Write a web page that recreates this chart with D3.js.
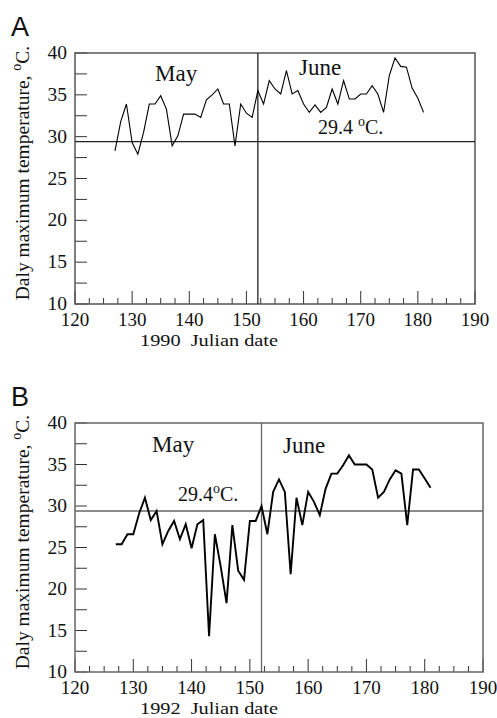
<!DOCTYPE html>
<html><head><meta charset="utf-8">
<script src="https://cdn.jsdelivr.net/npm/d3@7"></script>
<style>
html,body{margin:0;padding:0;background:#fff;}
svg{display:block;}
text{font-family:"Liberation Serif","DejaVu Serif",serif;fill:#111;}
</style></head>
<body>
<svg id="c" width="497" height="718"></svg>
<script>
// ---- data ----
const days = d3.range(127, 182); // Julian dates 127..181
const tmax1990 = [28.3,31.8,33.9,29.3,27.9,30.5,33.9,33.9,34.9,33.3,28.9,30.1,32.7,32.7,32.7,32.3,34.4,35.0,35.7,33.9,33.9,28.9,33.9,32.8,32.3,35.5,33.9,36.7,35.7,35.1,37.9,35.1,35.5,33.9,32.9,33.8,32.9,33.5,35.7,33.9,36.7,34.5,34.5,35.1,35.1,36.1,35.1,32.9,37.3,39.4,38.4,38.3,35.8,34.6,32.9];
const tmax1992 = [25.4,25.4,26.6,26.6,29.1,31.0,28.3,29.4,25.4,27.0,28.2,26.0,27.8,24.9,27.8,28.3,14.3,26.6,22.7,18.3,27.7,22.2,21.1,28.2,28.2,30.0,26.6,31.7,33.2,31.7,21.8,31.0,27.7,31.7,30.5,28.9,32.1,33.9,33.9,34.9,36.1,35.0,35.0,35.0,34.4,31.0,31.7,33.2,34.3,33.9,27.7,34.4,34.4,33.3,32.2];
const xTicks = [120,130,140,150,160,170,180,190];
const yTicks = [10,15,20,25,30,35,40];
const threshold = 29.4;
const juneStart = 152;

const svg = d3.select("#c");

function panel(cfg){
  const g = svg.append("g");
  const x = d3.scaleLinear().domain([120,190]).range([cfg.left, cfg.right]);
  const y = d3.scaleLinear().domain([10,40]).range([cfg.bottom, cfg.top]);

  const xMinor = d3.range(120, 190.01, 2.5);
  g.selectAll(".xt").data(xMinor).join("line")
    .attr("x1", d=>x(d)).attr("x2", d=>x(d))
    .attr("y1", cfg.bottom).attr("y2", d=> cfg.bottom - (d%10===0 ? 13 : 6))
    .attr("stroke", "#333").attr("stroke-width", 1);
  const yMinor = d3.range(10, 40.01, 2.5);
  g.selectAll(".yt").data(yMinor).join("line")
    .attr("x1", cfg.left).attr("x2", cfg.left + 12)
    .attr("y1", d=>y(d)).attr("y2", d=>y(d))
    .attr("stroke", "#333").attr("stroke-width", 1);

  g.append("rect").attr("x", cfg.left).attr("y", cfg.top)
    .attr("width", cfg.right-cfg.left).attr("height", cfg.bottom-cfg.top)
    .attr("fill","none").attr("stroke", cfg.frameColor).attr("stroke-width", 1.5);

  g.append("line").attr("x1", cfg.left).attr("x2", cfg.right)
    .attr("y1", y(threshold)).attr("y2", y(threshold))
    .attr("stroke", cfg.refColor).attr("stroke-width", 1.3);
  g.append("line").attr("x1", x(juneStart)).attr("x2", x(juneStart))
    .attr("y1", cfg.top).attr("y2", cfg.bottom)
    .attr("stroke", cfg.refColor).attr("stroke-width", 1.3);

  const line = d3.line().x((d,i)=>x(days[i])).y(d=>y(d));
  g.append("path").datum(cfg.data).attr("d", line)
    .attr("fill","none").attr("stroke","#000").attr("stroke-width", cfg.lineW)
    .attr("stroke-linejoin","miter");

  g.selectAll(".xl").data(xTicks).join("text")
    .attr("x", d=>x(d)).attr("y", cfg.bottom + 22)
    .attr("text-anchor","middle").attr("font-size", 19).text(d=>d);
  g.selectAll(".yl").data(yTicks).join("text")
    .attr("x", cfg.left - 8).attr("y", d=>y(d) + 6)
    .attr("text-anchor","end").attr("font-size", 19.5).text(d=>d);

  g.append("text").attr("x", 140).attr("y", cfg.bottom + cfg.titleDy)
    .attr("font-size", 17.5).attr("textLength", 138).attr("lengthAdjust", "spacingAndGlyphs")
    .attr("xml:space","preserve").text(cfg.year + "  Julian date");
  const yt = g.append("text")
    .attr("transform", `translate(${cfg.left-46},${cfg.ylabCenter}) rotate(-90)`)
    .attr("text-anchor","middle").attr("font-size", 19.5);
  yt.append("tspan").text("Daly maximum temperature,  ");
  yt.append("tspan").attr("dy", -8).attr("font-size", 14).text("o");
  yt.append("tspan").attr("dy", 8).text("C.");

  g.append("text").attr("x", 11).attr("y", cfg.top - 17)
    .style("font-family", "'Liberation Sans',Arial,sans-serif")
    .attr("font-size", 27).text(cfg.letter);

  g.append("text").attr("x", cfg.may[0]).attr("y", cfg.may[1])
    .attr("font-size", 23).text("May");
  g.append("text").attr("x", cfg.june[0]).attr("y", cfg.june[1])
    .attr("font-size", 23).text("June");
  const t = g.append("text").attr("x", cfg.thr[0]).attr("y", cfg.thr[1]).attr("font-size", 20);
  t.append("tspan").text(cfg.thrSpace ? "29.4 " : "29.4");
  t.append("tspan").attr("dy", -8).attr("font-size", 14).text("o");
  t.append("tspan").attr("dy", 8).text("C.");
}

panel({left:75, right:475, top:53, bottom:304, data:tmax1990, lineW:1.1, frameColor:"#555", refColor:"#222",
  year:"1990", letter:"A", may:[155,81], june:[299,75], thr:[318,134], thrSpace:true, titleDy:42, ylabCenter:173});
panel({left:75, right:483, top:423, bottom:672, data:tmax1992, lineW:1.9, frameColor:"#666", refColor:"#666",
  year:"1992", letter:"B", may:[152,452], june:[283,453], thr:[178,501], thrSpace:false, titleDy:42, ylabCenter:542});
</script>
</body></html>
